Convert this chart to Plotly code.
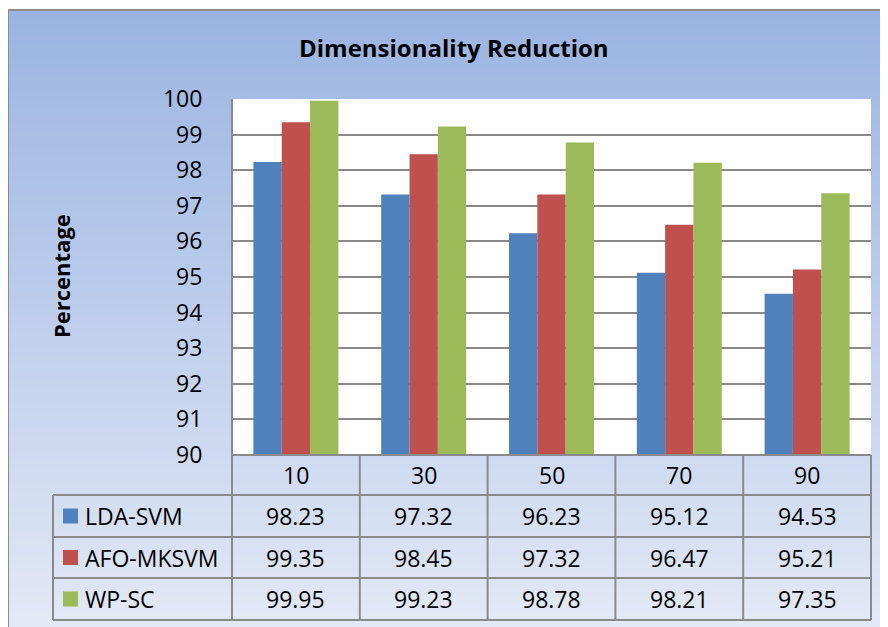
import plotly.graph_objects as go

# ---- data ----
categories = ["10", "30", "50", "70", "90"]
series_names = ["LDA-SVM", "AFO-MKSVM", "WP-SC"]
lda_svm = [98.23, 97.32, 96.23, 95.12, 94.53]
afo_mksvm = [99.35, 98.45, 97.32, 96.47, 95.21]
wp_sc = [99.95, 99.23, 98.78, 98.21, 97.35]
y_ticks = [90, 91, 92, 93, 94, 95, 96, 97, 98, 99, 100]

series_values = [lda_svm, afo_mksvm, wp_sc]
colors = ["#4F81BD", "#C0504D", "#9BBB59"]

W, H = 888, 627
OFF = 8  # page body margin offset
L, R, T, B = 232 - OFF, 871 - OFF, 99 - OFF, 455 - OFF  # plot area in px (figure coords)
FONT = "Open Sans"

def px(x):
    return (x - OFF - L) / (R - L)

def py(y):
    return (B - (y - OFF)) / (B - T)

fig = go.Figure()
xs = list(range(len(categories)))
for name, vals, c in zip(series_names, series_values, colors):
    fig.add_trace(go.Bar(x=xs, y=vals, name=name, marker=dict(color=c, line=dict(width=0)),
                         showlegend=False))

shapes = []
# gradient background (frame starts at 8,10)
n = 80
top_c = (154, 180, 226)
bot_c = (229, 235, 247)
y0, y1 = 10, 650
for i in range(n):
    a = y0 + (y1 - y0) * i / n
    b = y0 + (y1 - y0) * (i + 1) / n
    t = (i + 0.5) / n
    col = tuple(round(top_c[k] + (bot_c[k] - top_c[k]) * t) for k in range(3))
    shapes.append(dict(type="rect", xref="paper", yref="paper", layer="below",
                       x0=px(8), x1=px(900), y0=py(a), y1=py(b + 0.6),
                       fillcolor="rgb(%d,%d,%d)" % col, line=dict(width=0)))
# frame border
shapes.append(dict(type="line", xref="paper", yref="paper", layer="below",
                   x0=px(8), x1=px(900), y0=py(10), y1=py(10), line=dict(color="#8C8C8C", width=2)))
shapes.append(dict(type="line", xref="paper", yref="paper", layer="below",
                   x0=px(8), x1=px(8), y0=py(10), y1=py(650), line=dict(color="#8C8C8C", width=2)))
# plot area
shapes.append(dict(type="rect", xref="paper", yref="paper", layer="below",
                   x0=0, x1=1, y0=0, y1=1, fillcolor="white", line=dict(width=0)))

# data table geometry
gc = "#8A8A8A"
row_edges = [455, 495, 537, 578, 620]
leg_left = 53
x_left, x_right = 232, 871
col_w = (x_right - x_left) / len(categories)
col_edges = [x_left + col_w * k for k in range(len(categories) + 1)]
for i, ye in enumerate(row_edges):
    xa = x_left if i == 0 else leg_left
    shapes.append(dict(type="line", xref="paper", yref="paper", layer="above",
                       x0=px(xa), x1=px(x_right), y0=py(ye), y1=py(ye), line=dict(color=gc, width=2)))
for xe in col_edges:
    shapes.append(dict(type="line", xref="paper", yref="paper", layer="above",
                       x0=px(xe), x1=px(xe), y0=py(455), y1=py(620), line=dict(color=gc, width=2)))
shapes.append(dict(type="line", xref="paper", yref="paper", layer="above",
                   x0=px(leg_left), x1=px(leg_left), y0=py(495), y1=py(620), line=dict(color=gc, width=2)))
# plot area left border
shapes.append(dict(type="line", xref="paper", yref="paper", layer="above",
                   x0=0, x1=0, y0=0, y1=1, line=dict(color=gc, width=2)))

annotations = []
tf = dict(family=FONT, size=23, color="black")
# header
hc = (row_edges[0] + row_edges[1]) / 2
for k, cat in enumerate(categories):
    annotations.append(dict(text=cat, xref="x", yref="paper", x=k, y=py(hc),
                            xanchor="center", yanchor="middle", showarrow=False, font=tf))
# rows
for r, (name, vals, c) in enumerate(zip(series_names, series_values, colors)):
    rc = (row_edges[r + 1] + row_edges[r + 2]) / 2
    shapes.append(dict(type="rect", xref="paper", yref="paper", layer="above",
                       x0=px(63), x1=px(78), y0=py(rc - 7.5), y1=py(rc + 7.5),
                       fillcolor=c, line=dict(width=0)))
    annotations.append(dict(text=name, xref="paper", yref="paper", x=px(83), y=py(rc),
                            xanchor="left", yanchor="middle", showarrow=False, font=tf))
    for k, v in enumerate(vals):
        annotations.append(dict(text="%.2f" % v, xref="x", yref="paper", x=k, y=py(rc),
                                xanchor="center", yanchor="middle", showarrow=False, font=tf))
# axis title
annotations.append(dict(text="<b>Percentage</b>", xref="paper", yref="paper", x=px(61), y=py(276),
                        xanchor="center", yanchor="middle", textangle=-90, showarrow=False,
                        font=dict(family=FONT, size=22, color="black")))
# chart title
annotations.append(dict(text="<b>Dimensionality Reduction</b>", xref="paper", yref="paper",
                        x=px(454), y=py(48), xanchor="center", yanchor="middle", showarrow=False,
                        font=dict(family=FONT, size=24, color="black")))

fig.update_layout(
    width=W, height=H,
    margin=dict(l=L, r=W - R, t=T, b=H - B, pad=0),
    paper_bgcolor="white",
    plot_bgcolor="rgba(0,0,0,0)",
    barmode="group", bargap=0.335, bargroupgap=0,
    xaxis=dict(range=[-0.5, len(categories) - 0.5], showticklabels=False, showgrid=False,
               zeroline=False, showline=False, ticks=""),
    yaxis=dict(range=[90, 100], tickvals=y_ticks, showgrid=True, gridcolor=gc, gridwidth=2,
               zeroline=False, showline=False, ticks="outside", ticklen=24,
               tickcolor="rgba(0,0,0,0)",
               tickfont=dict(family=FONT, size=23, color="black")),
    shapes=shapes, annotations=annotations,
    showlegend=False,
)

fig.write_html("out.html")
